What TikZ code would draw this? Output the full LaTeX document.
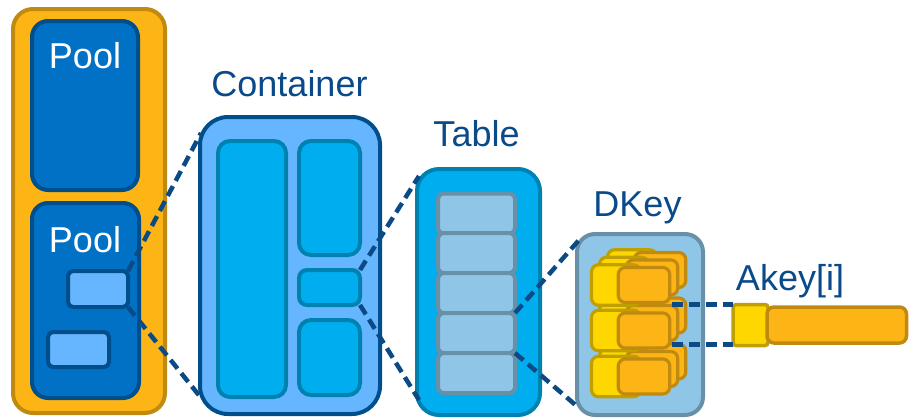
\documentclass[tikz,border=0pt]{standalone}
\usepackage{fontspec}
\setmainfont{Liberation Sans}
\usetikzlibrary{calc}

\definecolor{labelblue}{HTML}{0A4A8A}
\definecolor{linkblue}{HTML}{0B4A85}
\definecolor{goldfill}{HTML}{FDB515}
\definecolor{golddraw}{HTML}{C08A10}
\definecolor{poolfill}{HTML}{0071C5}
\definecolor{pooldraw}{HTML}{004E8C}
\definecolor{skyfill}{HTML}{66B5FF}
\definecolor{cyanfill}{HTML}{00AEEF}
\definecolor{cyandraw}{HTML}{0082B0}
\definecolor{palefill}{HTML}{8FC6E8}
\definecolor{paledraw}{HTML}{6891A8}
\definecolor{yelfill}{HTML}{FFD700}
\definecolor{yeldraw}{HTML}{BFA000}

\tikzset{
  box/.style={draw, rectangle, inner sep=0pt, outer sep=0pt, line width=4pt},
  rack/.style={box, fill=goldfill, draw=golddraw, rounded corners=20pt},
  pool/.style={box, fill=poolfill, draw=pooldraw, rounded corners=16pt},
  obj/.style={box, fill=skyfill, draw=pooldraw, rounded corners=5pt},
  cont/.style={box, fill=skyfill, draw=pooldraw, rounded corners=28pt},
  part/.style={box, fill=cyanfill, draw=cyandraw},
  tbl/.style={box, fill=cyanfill, draw=cyandraw, rounded corners=22pt},
  rowbox/.style={box, fill=palefill, draw=paledraw, rounded corners=6pt},
  dkeybox/.style={box, fill=palefill, draw=paledraw, rounded corners=18pt},
  keyY/.style={box, line width=3.2pt, fill=yelfill, draw=yeldraw, rounded corners=7pt},
  keyO/.style={box, line width=3.2pt, fill=goldfill, draw=golddraw, rounded corners=7pt},
  dline/.style={draw=linkblue, line width=4.5pt, dash pattern=on 11pt off 6pt},
  lbl/.style={inner sep=0pt, outer sep=0pt, anchor=base, text=labelblue,
    font=\fontsize{36}{36}\selectfont},
  wlbl/.style={lbl, text=white}
}

\begin{document}
\begin{tikzpicture}[x=1pt,y=-1pt]

\useasboundingbox (0,0) rectangle (909,418);

% storage rack with two pools
\node[rack, minimum width=152pt, minimum height=404pt] (rack) at (89,211) {};
\node[pool, minimum width=106pt, minimum height=169pt] (pool1) at (85,105.5) {};
\node[pool, minimum width=107pt, minimum height=195pt] (pool2) at (85.5,300.5) {};
\node[obj, minimum width=60pt, minimum height=36pt] (obj1) at (98,289) {};
\node[obj, minimum width=61pt, minimum height=35pt] (obj2) at (78.5,349.5) {};

% container and its parts
\node[cont, minimum width=180pt, minimum height=297pt] (container) at (290,265.5) {};
\node[part, rounded corners=12pt, minimum width=68pt, minimum height=256pt] (c1) at (252,269) {};
\node[part, rounded corners=12pt, minimum width=61pt, minimum height=114pt] (c2) at (329.5,198) {};
\node[part, rounded corners=8pt, minimum width=61pt, minimum height=35pt] (c3) at (329.5,287.5) {};
\node[part, rounded corners=12pt, minimum width=61pt, minimum height=75pt] (c4) at (329.5,357.5) {};

% table with its rows
\node[tbl, minimum width=123pt, minimum height=246pt] (table) at (478.5,292) {};
\foreach \i/\cy in {1/213.5, 2/253, 3/293, 4/333, 5/373}
  \node[rowbox, minimum width=77pt, minimum height=40pt] (row\i) at (476.5,\cy) {};

% dkey holding stacked akeys
\node[dkeybox, minimum width=126pt, minimum height=181pt] (dkey) at (640,324.5) {};
\foreach \l/\dx/\dy in {2/16/15, 1/8/7.5, 0/0/0} {
  \foreach \r/\cy in {1/285, 2/330.5, 3/376.5} {
    \node[keyY, minimum width=49pt, minimum height=40.5pt] (ky\l\r) at (616+\dx,\cy-\dy) {};
    \node[keyO, minimum width=51.5pt, minimum height=35pt] (ko\l\r) at (644+\dx,\cy-\dy) {};
  }
}

% single akey entry
\node[keyY, line width=3.5pt, rounded corners=3pt, minimum width=35pt, minimum height=41pt] (akY) at (750.5,325) {};
\node[keyO, line width=3.5pt, rounded corners=7pt, minimum width=139.5pt, minimum height=36pt] (akO) at (836.75,325) {};

% zoom links
\draw[dline] (obj1.north east) -- ($(container.north west)+(1,16)$);
\draw[dline] (obj1.south east) -- ($(container.south west)+(2,-15)$);
\draw[dline] (c3.north east) -- ($(table.north west)+(2,7)$);
\draw[dline] (c3.south east) -- ($(table.south west)+(2,-15)$);
\draw[dline] (row4.north east) -- ($(dkey.north west)+(2,6)$);
\draw[dline] (row4.south east) -- ($(dkey.south west)+(2,-7)$);
\draw[dline] ($(ko02.east |- akY.north west)+(2,0)$) -- (akY.north west);
\draw[dline] ($(ko02.east |- akY.south west)+(2,-1)$) -- ($(akY.south west)+(0,-1)$);

% labels
\node[wlbl] (tpool1) at (85,68) {Pool};
\node[wlbl] (tpool2) at (85,252) {Pool};
\node[lbl] (tcont) at (289.5,96.5) {Container};
\node[lbl] (ttable) at (476.5,146.5) {Table};
\node[lbl] (tdkey) at (637.5,216.5) {DKey};
\node[lbl] (takey) at (790,290) {Akey[i]};
\end{tikzpicture}
\end{document}
